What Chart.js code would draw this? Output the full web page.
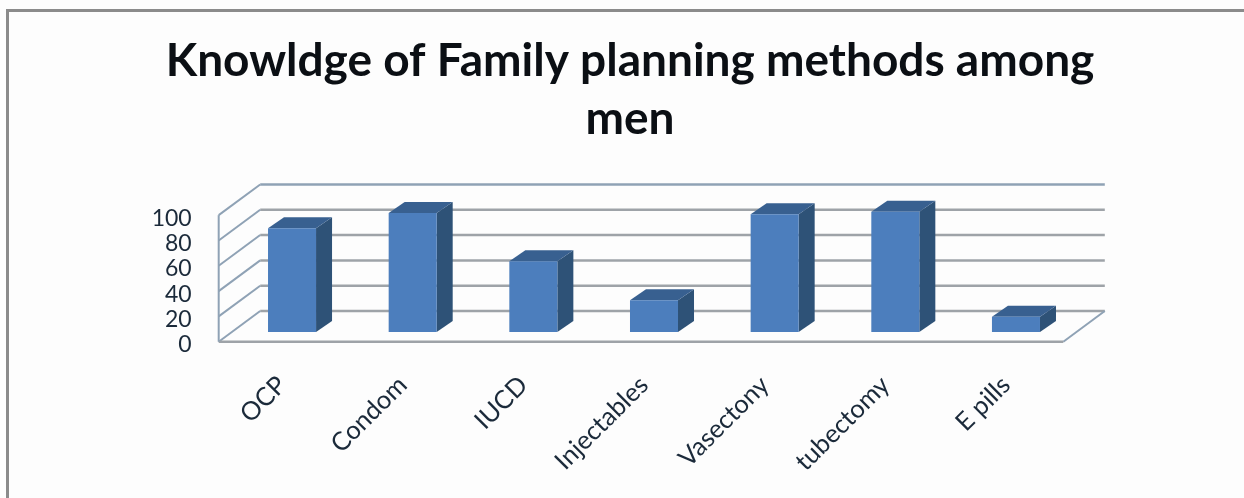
<!DOCTYPE html>
<html>
<head>
<meta charset="utf-8">
<title>Knowldge of Family planning methods among men</title>
<script src="https://cdn.jsdelivr.net/npm/chart.js@4"></script>
<style>
  html, body { margin: 0; padding: 0; background: #fdfdfd; }
  #wrap { position: relative; width: 1244px; height: 498px; overflow: hidden; }
  #frame {
    position: absolute; left: 6px; top: 9px; width: 1244px; height: 500px;
    border: 3px solid #8b8b8b; box-sizing: border-box;
  }
  canvas { position: absolute; left: 0; top: 0; }
</style>
</head>
<body>
<div id="wrap">
  <div id="frame"></div>
  <canvas id="chart" width="1244" height="498"></canvas>
</div>
<script>
// Chart data
const categories = ["OCP", "Condom", "IUCD", "Injectables", "Vasectony", "tubectomy", "E pills"];
const knowledge = [82, 94, 56, 25, 93, 95, 12];
const titleLines = ["Knowldge of Family planning methods among", "men"];

// Pseudo-3D look: the bars stand on a floor between a front edge and a back wall
const barDepth = { dx: 16, dy: -11 };
const frontEdge = { dx: -13, dy: 9.7 };
const backWall = { dx: 28.5, dy: -21 };

const frontColor = "#4c7ebd";
const sideColor = "#2e5277";
const topColor = "#386090";
const gridColor = "#9ea3a8";
const wallColor = "#8fa2b5";

function line(ctx, x1, y1, x2, y2, color, width) {
  ctx.strokeStyle = color;
  ctx.lineWidth = width;
  ctx.beginPath();
  ctx.moveTo(x1, y1);
  ctx.lineTo(x2, y2);
  ctx.stroke();
}

function poly(ctx, pts, color) {
  ctx.fillStyle = color;
  ctx.beginPath();
  pts.forEach((p, i) => (i ? ctx.lineTo(p[0], p[1]) : ctx.moveTo(p[0], p[1])));
  ctx.closePath();
  ctx.fill();
}

// Back wall gridlines, side wall diagonals and the floor
const wallsPlugin = {
  id: "walls",
  beforeDatasetsDraw(chart) {
    const { ctx, chartArea, scales } = chart;
    const y = scales.y;
    const left = chartArea.left;
    const right = chartArea.right;
    const fx = left + frontEdge.dx;
    const bx = left + backWall.dx;
    const bxr = right + backWall.dx;
    const fxr = right + frontEdge.dx;
    ctx.save();
    y.ticks.forEach((t) => {
      const py = y.getPixelForValue(t.value);
      const color = t.value === 100 ? wallColor : gridColor;
      line(ctx, bx, py + backWall.dy, bxr, py + backWall.dy, color, 2.5);
      line(ctx, fx, py + frontEdge.dy, bx, py + backWall.dy, wallColor, 2);
    });
    const y0 = y.getPixelForValue(0);
    const y100 = y.getPixelForValue(100);
    line(ctx, bxr, y0 + backWall.dy, fxr, y0 + frontEdge.dy, wallColor, 2);
    line(ctx, fx, y0 + frontEdge.dy, fxr, y0 + frontEdge.dy, gridColor, 2.5);
    line(ctx, fx, y0 + frontEdge.dy, fx, y100 + frontEdge.dy, wallColor, 2);
    ctx.restore();
  }
};

// Side and top faces of each bar, taken from the bar elements themselves
const barFacesPlugin = {
  id: "barFaces",
  beforeDatasetsDraw(chart) {
    const { ctx } = chart;
    ctx.save();
    chart.getDatasetMeta(0).data.forEach((bar) => {
      const r = bar.x + bar.width / 2;
      const l = bar.x - bar.width / 2;
      const d = barDepth;
      poly(ctx, [[r, bar.y], [r + d.dx, bar.y + d.dy], [r + d.dx, bar.base + d.dy], [r, bar.base]], sideColor);
      poly(ctx, [[l, bar.y], [l + d.dx, bar.y + d.dy], [r + d.dx, bar.y + d.dy], [r, bar.y]], topColor);
    });
    ctx.restore();
  }
};

new Chart(document.getElementById("chart"), {
  type: "bar",
  data: {
    labels: categories,
    datasets: [{
      data: knowledge,
      backgroundColor: frontColor,
      barPercentage: 0.398,
      categoryPercentage: 1
    }]
  },
  options: {
    responsive: false,
    animation: false,
    // left padding puts the title's centre where the plot sits
    layout: { padding: { top: 0, right: 0, bottom: 0, left: 16 } },
    plugins: {
      legend: { display: false },
      tooltip: { enabled: false },
      title: {
        display: true,
        text: titleLines,
        color: "#0b0f14",
        font: { family: "Lato", size: 46, weight: "bold", lineHeight: 1.27 },
        padding: { top: 32, bottom: 56.6 }
      }
    },
    scales: {
      x: {
        afterFit(scale) { scale.height = 166; },
        grid: { display: false },
        border: { display: false },
        ticks: {
          color: "#1b2a3a",
          font: { family: "Lato", size: 25.5 },
          minRotation: 45,
          maxRotation: 45,
          padding: 30,
          labelOffset: -10,
          autoSkip: false
        }
      },
      y: {
        min: 0,
        max: 100,
        afterFit(scale) { scale.width = 215.7; },
        grid: { display: false },
        border: { display: false },
        ticks: {
          stepSize: 20,
          autoSkip: false,
          color: "#1b2a3a",
          font: { family: "Lato", size: 23 },
          padding: 32,
          labelOffset: 13
        }
      },
      // empty right-hand axis keeps room beside the plot
      spacer: {
        position: "right",
        afterFit(scale) { scale.width = 167.7; },
        grid: { display: false },
        border: { display: false },
        ticks: { display: false }
      }
    }
  },
  plugins: [wallsPlugin, barFacesPlugin]
});
</script>
</body>
</html>
